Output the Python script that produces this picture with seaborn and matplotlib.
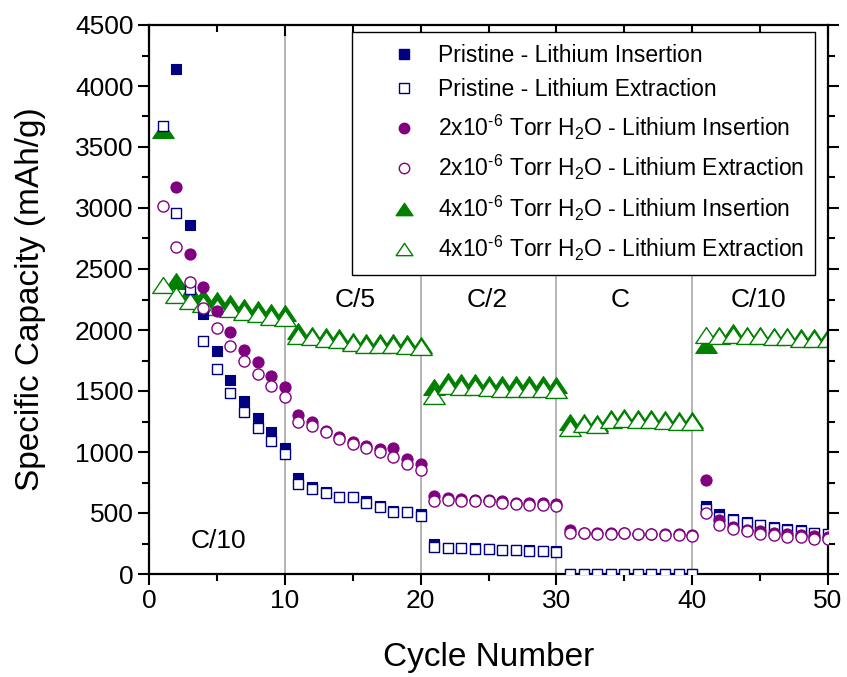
import numpy as np
import pandas as pd
import matplotlib
matplotlib.use("Agg")
import matplotlib.pyplot as plt
from matplotlib.lines import Line2D
from matplotlib.path import Path
from matplotlib.ticker import MultipleLocator
import seaborn as sns

nan = np.nan
cycles = list(range(1, 51))

pristine_ins = [nan, 4140, 2860, 2130, 1830, 1590, 1420, 1275, 1160, 1035,
                785, 710, 670, 635, 635, 595, 555, 520, 512, 490,
                245, 215, 210, 210, 205, 200, 200, 195, 190, 185,
                0, 0, 0, 0, 0, 0, 0, 0, 0, 0,
                560, 490, 450, 425, 405, 385, 365, 360, 340, 330]
pristine_ext = [3670, 2960, 2340, 1910, 1680, 1480, 1330, 1200, 1090, 985,
                735, 695, 660, 630, 630, 580, 550, 510, 505, 475,
                220, 215, 210, 205, 205, 200, 195, 190, 185, 180,
                0, 0, 0, 0, 0, 0, 0, 0, 0, 0,
                530, 470, 440, 415, 400, 380, 360, 355, 335, 325]
purple_ins = [nan, 3170, 2620, 2350, 2155, 1980, 1840, 1740, 1620, 1530,
              1305, 1250, 1175, 1125, 1085, 1052, 1025, 1030, 940, 900,
              640, 625, 615, 610, 610, 595, 585, 580, 580, 575,
              360, 340, 335, 335, 335, 330, 330, 325, 325, 320,
              770, 440, 385, 360, 350, 340, 330, 320, 310, 300]
purple_ext = [3020, 2680, 2390, 2180, 2020, 1865, 1750, 1640, 1540, 1450,
              1250, 1215, 1160, 1110, 1065, 1030, 1000, 960, 900, 850,
              600, 610, 600, 600, 595, 580, 575, 565, 565, 555,
              340, 335, 330, 330, 335, 325, 325, 320, 320, 315,
              500, 400, 365, 350, 330, 320, 305, 300, 290, 285]
green_ins = [3640, 2400, 2310, 2270, 2250, 2220, 2190, 2170, 2150, 2140,
             1990, 1960, 1950, 1940, 1910, 1900, 1900, 1900, 1890, 1880,
             1530, 1580, 1570, 1570, 1560, 1560, 1560, 1560, 1555, 1550,
             1250, 1250, 1240, 1280, 1290, 1280, 1275, 1270, 1265, 1260,
             1880, 1960, 1980, 1960, 1960, 1950, 1950, 1940, 1940, 1940]
green_ext = [2370, 2290, 2240, 2210, 2190, 2170, 2150, 2130, 2110, 2100,
             1950, 1940, 1930, 1920, 1890, 1880, 1880, 1880, 1870, 1860,
             1460, 1540, 1530, 1530, 1525, 1520, 1520, 1520, 1515, 1510,
             1200, 1230, 1220, 1260, 1270, 1265, 1260, 1255, 1250, 1250,
             1960, 1950, 1960, 1950, 1950, 1940, 1940, 1930, 1930, 1930]

labels = ["Pristine - Lithium Insertion",
          "Pristine - Lithium Extraction",
          "2x10$^{\u20106}$ Torr H$_2$O - Lithium Insertion",
          "2x10$^{\u20106}$ Torr H$_2$O - Lithium Extraction",
          "4x10$^{\u20106}$ Torr H$_2$O - Lithium Insertion",
          "4x10$^{\u20106}$ Torr H$_2$O - Lithium Extraction"]
rate_labels = ["C/10", "C/5", "C/2", "C", "C/10"]
rate_x = [5.1, 15.2, 24.9, 34.7, 44.85]
rate_y = [270, 2245, 2245, 2245, 2245]

sns.set_style("white")
plt.rcParams["font.family"] = ["Liberation Sans", "DejaVu Sans"]
plt.rcParams["mathtext.fontset"] = "custom"
plt.rcParams["mathtext.rm"] = "Liberation Sans"
plt.rcParams["mathtext.it"] = "Liberation Sans:italic"
plt.rcParams["mathtext.default"] = "regular"
for k in ["text.color", "axes.labelcolor", "xtick.color", "ytick.color",
          "xtick.labelcolor", "ytick.labelcolor"]:
    plt.rcParams[k] = "black"

navy, purple, green = "#000080", "#800080", "#008000"
tri = Path([(0, 0.74), (-1, -0.74), (1, -0.74), (0, 0.74)],
           [Path.MOVETO, Path.LINETO, Path.LINETO, Path.CLOSEPOLY])

fig = plt.figure(figsize=(8.47, 6.77), dpi=100)
ax = fig.add_axes([149 / 847, 1 - 574 / 677, (828 - 149) / 847, (574 - 25) / 677])

series = [
    (green_ins, tri, green, True, 15.5, 1),
    (green_ext, tri, green, False, 15.5, 2),
    (pristine_ins, "s", navy, True, 7.4, 3),
    (pristine_ext, "s", navy, False, 7.4, 4),
    (purple_ins, "o", purple, True, 8.0, 5),
    (purple_ext, "o", purple, False, 8.0, 6),
]
for vals, mk, col, filled, ms, z in series:
    df = pd.DataFrame({"cycle": cycles, "cap": vals})
    if filled:
        sns.scatterplot(data=df, x="cycle", y="cap", marker=mk, s=ms ** 2,
                        color=col, edgecolor=col, linewidth=0.8, ax=ax,
                        zorder=z, legend=False)
    else:
        sns.scatterplot(data=df, x="cycle", y="cap", marker=mk, s=ms ** 2,
                        facecolor="white", edgecolor=col, linewidth=1.0, ax=ax,
                        zorder=z, legend=False)

for gx in [10, 20, 30, 40]:
    ax.axvline(gx, color="#b4b4b4", lw=1.4, zorder=0)

ax.set_xlim(0, 50)
ax.set_ylim(0, 4500)
ax.xaxis.set_major_locator(MultipleLocator(10))
ax.xaxis.set_minor_locator(MultipleLocator(5))
ax.yaxis.set_major_locator(MultipleLocator(500))
ax.yaxis.set_minor_locator(MultipleLocator(250))
ax.tick_params(which="major", direction="out", length=8, width=1.5,
               labelsize=19, color="black", bottom=True, left=True, pad=3)
ax.tick_params(which="minor", direction="out", length=5, width=1.5,
               bottom=True, left=True)
ax.tick_params(which="both", top=True, right=True)
for t in ax.xaxis.get_ticklines(minor=False)[1::2] + ax.xaxis.get_ticklines(minor=True)[1::2]:
    t.set_marker(3)
for t in ax.yaxis.get_ticklines(minor=False)[1::2] + ax.yaxis.get_ticklines(minor=True)[1::2]:
    t.set_marker(1)
for s in ax.spines.values():
    s.set_color("black")
    s.set_linewidth(1.6)

ax.set_xlabel("Cycle Number", fontsize=24, labelpad=21)
ax.set_ylabel("Specific Capacity (mAh/g)", fontsize=24, labelpad=21)

for lab, x, y in zip(rate_labels, rate_x, rate_y):
    ax.text(x, y, lab, fontsize=19, ha="center", va="center", zorder=7)

handles = [
    Line2D([], [], ls="none", marker="s", ms=7, mfc=navy, mec=navy),
    Line2D([], [], ls="none", marker="s", ms=7, mfc="white", mec=navy, mew=1.0),
    Line2D([], [], ls="none", marker="o", ms=7.5, mfc=purple, mec=purple),
    Line2D([], [], ls="none", marker="o", ms=7.5, mfc="white", mec=purple, mew=1.0),
    Line2D([], [], ls="none", marker=tri, ms=12, mfc=green, mec=green),
    Line2D([], [], ls="none", marker=tri, ms=12, mfc="white", mec=green, mew=1.0),
]
leg = ax.legend(handles, labels, loc="upper right", bbox_to_anchor=(0.981, 0.987),
                fontsize=16.5, frameon=True, fancybox=False, framealpha=1,
                edgecolor="black", handlelength=3.6, handletextpad=-0.35,
                borderpad=0.5, labelspacing=0.5, borderaxespad=0)
leg.get_frame().set_linewidth(1.0)
leg.set_zorder(10)

fig.savefig("out.png", dpi=100)
